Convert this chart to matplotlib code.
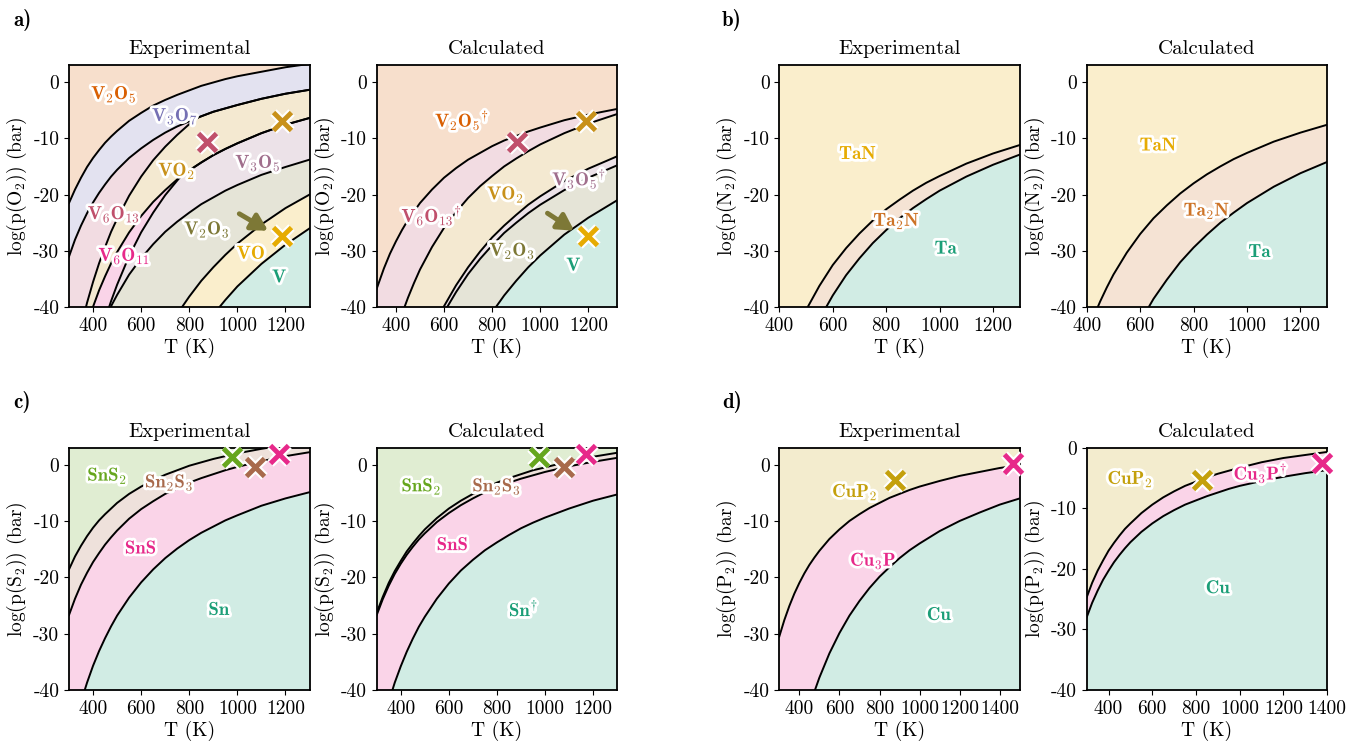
import re
import matplotlib
matplotlib.use('Agg')
import matplotlib.pyplot as plt
import matplotlib.patheffects as pe
from matplotlib.colors import to_rgb

plt.rcParams['font.family'] = 'serif'
plt.rcParams['font.serif'] = ['cmr10']
plt.rcParams['mathtext.fontset'] = 'cm'
plt.rcParams['axes.unicode_minus'] = False
plt.rcParams['font.size'] = 14

# ---------------- data ----------------
# a) V-O experimental: phase boundaries (T in K, log p(O2) in bar), top to bottom
aexp_T1 = [300, 325, 350, 375, 400, 425, 450, 475, 500, 550, 600, 650, 700, 750, 800, 850, 900, 950, 1000, 1100, 1200, 1300]
aexp_p1 = [-21.5, -19.1, -17.0, -15.1, -13.5, -12.1, -10.8, -9.7, -8.7, -6.9, -5.5, -4.2, -3.2, -2.3, -1.5, -0.7, -0.1, 0.5, 1.0, 1.8, 2.6, 3.2]
aexp_T2 = [300, 325, 350, 375, 400, 425, 450, 475, 500, 550, 600, 650, 700, 750, 800, 850, 900, 950, 1000, 1100, 1200, 1300]
aexp_p2 = [-31.0, -28.0, -25.5, -23.3, -21.4, -19.7, -18.2, -16.8, -15.6, -13.5, -11.8, -10.3, -9.0, -7.9, -7.0, -6.1, -5.3, -4.7, -4.1, -3.0, -2.1, -1.4]
aexp_T3 = [350, 375, 400, 425, 450, 475, 500, 550, 600, 650, 700, 750, 800, 832, 850, 900, 950, 1000, 1100, 1200, 1300]
aexp_p3 = [-43.5, -39.2, -35.5, -32.2, -29.3, -26.6, -24.3, -20.2, -16.8, -13.9, -11.5, -9.4, -7.5, -6.4, -6.1, -5.3, -4.7, -4.1, -3.0, -2.1, -1.4]
aexp_T4 = [375, 400, 425, 450, 475, 500, 550, 600, 650, 700, 750, 800, 850, 900, 950, 1000, 1100, 1200, 1300]
aexp_p4 = [-43.1, -39.9, -37.0, -34.5, -32.2, -30.2, -26.7, -23.8, -21.3, -19.2, -17.3, -15.7, -14.3, -13.0, -11.9, -10.9, -9.1, -7.6, -6.4]
aexp_T5 = [450, 475, 500, 550, 600, 650, 700, 750, 762, 800, 850, 900, 950, 1000, 1100, 1200, 1300]
aexp_p5 = [-42.1, -38.9, -36.0, -30.9, -26.7, -23.2, -20.1, -17.5, -16.9, -15.7, -14.3, -13.0, -11.9, -10.9, -9.1, -7.6, -6.4]
aexp_T6 = [450, 475, 500, 550, 600, 650, 700, 750, 800, 850, 900, 950, 1000, 1100, 1200, 1300]
aexp_p6 = [-42.1, -39.8, -37.8, -34.2, -31.3, -28.8, -26.6, -24.8, -23.2, -21.7, -20.5, -19.3, -18.3, -16.5, -15.1, -13.8]
aexp_T7 = [750, 800, 850, 900, 950, 1000, 1100, 1200, 1300]
aexp_p7 = [-41.2, -38.1, -35.3, -32.9, -30.7, -28.7, -25.3, -22.4, -20.0]
aexp_T8 = [900, 950, 1000, 1100, 1200, 1300]
aexp_p8 = [-41.3, -38.7, -36.3, -32.3, -28.9, -26.0]
aexp_phases = ['V2O5', 'V3O7', 'V6O13', 'VO2', 'V6O11', 'V3O5', 'V2O3', 'VO', 'V']
aexp_labels = ['V2O5', 'V3O7', 'VO2', 'V3O5', 'V6O13', 'V2O3', 'V6O11', 'VO', 'V']
aexp_label_T = [487, 741, 748, 1086, 487, 874, 530, 1058, 1177]
aexp_label_p = [-2.1, -6.0, -15.7, -14.3, -23.4, -26.1, -30.8, -30.5, -34.7]
aexp_cross_ph = ['V6O13', 'VO2', 'VO']
aexp_cross_T = [874, 1184, 1184]
aexp_cross_p = [-10.7, -7.0, -27.3]
aexp_arrow = [(1008, -23.4), (1128, -26.4)]

# a) V-O calculated
acal_T1 = [320, 350, 375, 400, 425, 450, 475, 500, 550, 600, 650, 700, 750, 800, 850, 900, 950, 1000, 1100, 1200, 1320]
acal_p1 = [-36.7, -33.1, -30.5, -28.3, -26.3, -24.5, -23.0, -21.5, -19.1, -17.0, -15.3, -13.8, -12.6, -11.4, -10.4, -9.6, -8.8, -8.1, -6.8, -5.8, -4.8]
acal_T2 = [425, 450, 475, 500, 550, 600, 650, 700, 750, 800, 850, 900, 950, 1000, 1100, 1200, 1320]
acal_p2 = [-41.2, -38.3, -35.7, -33.3, -29.3, -25.9, -23.1, -20.6, -18.5, -16.7, -15.0, -13.6, -12.3, -11.1, -9.1, -7.4, -5.7]
acal_T3 = [575, 600, 650, 700, 750, 800, 850, 900, 950, 1000, 1100, 1200, 1320]
acal_p3 = [-42.0, -39.8, -36.1, -32.9, -30.1, -27.6, -25.5, -23.6, -21.8, -20.3, -17.6, -15.4, -13.2]
acal_T4 = [600, 650, 700, 750, 800, 850, 900, 950, 1000, 1100, 1200, 1320]
acal_p4 = [-40.9, -37.3, -34.1, -31.4, -29.0, -26.8, -25.0, -23.3, -21.8, -19.2, -17.0, -14.8]
acal_T5 = [800, 850, 900, 950, 1000, 1100, 1200, 1320]
acal_p5 = [-40.9, -37.9, -35.3, -32.9, -30.8, -27.1, -24.1, -21.0]
acal_phases = ['V2O5', 'V6O13', 'VO2', 'V3O5', 'V2O3', 'V']
acal_labels = ['V2O5†', 'V6O13†', 'VO2', 'V3O5†', 'V2O3', 'V']
acal_label_T = [675, 549, 856, 1162, 884, 1141]
acal_label_p = [-6.8, -23.7, -19.9, -17.2, -29.9, -32.6]
acal_cross_ph = ['V6O13', 'VO2', 'VO']
acal_cross_T = [904, 1190, 1197]
acal_cross_p = [-10.7, -6.9, -27.3]
acal_arrow = [(1030, -23.3), (1141, -26.4)]

# b) Ta-N
bexp_T1 = [475, 500, 550, 600, 650, 700, 750, 800, 850, 900, 950, 1000, 1100, 1200, 1300]
bexp_p1 = [-43.0, -40.5, -36.2, -32.5, -29.5, -26.9, -24.6, -22.6, -20.9, -19.3, -17.9, -16.7, -14.5, -12.7, -11.2]
bexp_T2 = [550, 600, 650, 700, 750, 800, 850, 900, 950, 1000, 1100, 1200, 1300]
bexp_p2 = [-42.1, -37.9, -34.3, -31.3, -28.6, -26.3, -24.2, -22.4, -20.8, -19.3, -16.8, -14.7, -12.9]
bexp_labels = ['TaN', 'Ta2N', 'Ta']
bexp_label_T = [695, 839, 1026]
bexp_label_p = [-12.8, -24.6, -29.6]

bcal_T1 = [425, 450, 475, 500, 550, 600, 650, 700, 750, 800, 850, 900, 950, 1000, 1100, 1200, 1300]
bcal_p1 = [-41.8, -39.0, -36.5, -34.2, -30.3, -27.0, -24.2, -21.9, -19.8, -18.0, -16.4, -15.0, -13.7, -12.6, -10.6, -9.0, -7.6]
bcal_T2 = [600, 650, 700, 750, 800, 850, 900, 950, 1000, 1100, 1200, 1300]
bcal_p2 = [-42.6, -38.5, -35.1, -32.0, -29.4, -27.1, -25.0, -23.2, -21.5, -18.6, -16.2, -14.2]
bcal_labels = ['TaN', 'Ta2N', 'Ta']
bcal_label_T = [669, 850, 1050]
bcal_label_p = [-11.3, -22.8, -30.2]
b_phases = ['TaN', 'Ta2N', 'Ta']

# c) Sn-S
cexp_T1 = [300, 325, 350, 375, 400, 425, 450, 475, 500, 550, 600, 650, 700, 750, 800, 850, 900, 950, 1000, 1100, 1200, 1300]
cexp_p1 = [-18.6, -16.3, -14.4, -12.7, -11.2, -9.9, -8.8, -7.8, -6.8, -5.2, -3.9, -2.8, -1.8, -1.0, -0.2, 0.4, 1.0, 1.5, 2.0, 2.8, 3.5, 4.0]
cexp_T2 = [300, 325, 350, 375, 400, 425, 450, 475, 500, 550, 600, 650, 700, 750, 800, 850, 900, 950, 1000, 1100, 1200, 1300]
cexp_p2 = [-26.7, -23.8, -21.3, -19.2, -17.3, -15.7, -14.2, -12.9, -11.7, -9.6, -7.9, -6.5, -5.2, -4.2, -3.2, -2.4, -1.7, -1.0, -0.4, 0.6, 1.5, 2.2]
cexp_T3 = [350, 375, 400, 425, 450, 475, 500, 550, 600, 650, 700, 750, 800, 850, 900, 950, 1000, 1100, 1200, 1300]
cexp_p3 = [-42.1, -38.7, -35.7, -33.1, -30.8, -28.7, -26.8, -23.6, -20.9, -18.6, -16.6, -14.9, -13.4, -12.1, -11.0, -9.9, -9.0, -7.3, -6.0, -4.9]
cexp_labels = ['SnS2', 'Sn2S3', 'SnS', 'Sn']
cexp_label_T = [459, 717, 599, 927]
cexp_label_p = [-1.9, -3.1, -14.9, -25.8]
cexp_cross_T = [979, 1074, 1172]
cexp_cross_p = [1.4, -0.5, 1.8]

ccal_T1 = [300, 325, 350, 375, 400, 425, 450, 475, 500, 550, 600, 650, 700, 750, 800, 850, 900, 950, 1000, 1100, 1200, 1300]
ccal_p1 = [-26.3, -23.5, -21.0, -18.9, -17.1, -15.4, -14.0, -12.7, -11.5, -9.5, -7.8, -6.4, -5.2, -4.2, -3.2, -2.4, -1.7, -1.0, -0.5, 0.6, 1.4, 2.1]
ccal_T2 = [300, 325, 350, 375, 400, 425, 450, 475, 500, 550, 600, 650, 700, 750, 800, 850, 900, 950, 1000, 1100, 1200, 1300]
ccal_p2 = [-26.7, -23.9, -21.5, -19.4, -17.6, -16.0, -14.6, -13.3, -12.2, -10.2, -8.6, -7.2, -6.0, -4.9, -4.0, -3.2, -2.5, -1.9, -1.3, -0.3, 0.5, 1.2]
ccal_T3 = [350, 375, 400, 425, 450, 475, 500, 550, 600, 650, 700, 750, 800, 850, 900, 950, 1000, 1100, 1200, 1300]
ccal_p3 = [-42.1, -38.7, -35.8, -33.2, -30.9, -28.8, -27.0, -23.8, -21.1, -18.8, -16.9, -15.2, -13.8, -12.5, -11.3, -10.3, -9.4, -7.8, -6.4, -5.3]
ccal_labels = ['SnS2', 'Sn2S3', 'SnS', 'Sn†']
ccal_label_T = [486, 799, 616, 911]
ccal_label_p = [-3.8, -3.8, -14.3, -25.8]
ccal_cross_T = [973, 1078, 1171]
ccal_cross_p = [1.4, -0.5, 1.8]
c_phases = ['SnS2', 'Sn2S3', 'SnS', 'Sn']

# d) Cu-P
dexp_T1 = [300, 325, 350, 375, 400, 425, 450, 475, 500, 550, 600, 650, 700, 750, 800, 850, 900, 950, 1000, 1100, 1200, 1300, 1400, 1500]
dexp_p1 = [-30.5, -27.6, -25.1, -22.9, -21.0, -19.3, -17.8, -16.5, -15.3, -13.2, -11.5, -10.0, -8.8, -7.7, -6.8, -5.9, -5.2, -4.5, -3.9, -2.9, -2.0, -1.3, -0.6, -0.1]
dexp_T2 = [450, 475, 500, 550, 600, 650, 700, 750, 800, 850, 900, 950, 1000, 1100, 1200, 1300, 1400, 1500]
dexp_p2 = [-43.1, -40.3, -37.8, -33.5, -29.9, -26.8, -24.2, -21.9, -19.9, -18.2, -16.6, -15.2, -14.0, -11.8, -10.0, -8.5, -7.1, -6.0]
dexp_labels = ['CuP2', 'Cu3P', 'Cu']
dexp_label_T = [677, 769, 1101]
dexp_label_p = [-4.8, -17.0, -26.7]
dexp_cross_ph = ['CuP2', 'Cu3P']
dexp_cross_T = [877, 1467]
dexp_cross_p = [-2.8, 0.2]

dcal_T1 = [300, 325, 350, 375, 400, 425, 450, 475, 500, 550, 600, 650, 700, 750, 800, 850, 900, 950, 1000, 1100, 1200, 1300, 1400]
dcal_p1 = [-24.7, -22.3, -20.3, -18.6, -17.0, -15.7, -14.5, -13.4, -12.5, -10.8, -9.4, -8.2, -7.2, -6.3, -5.6, -4.9, -4.3, -3.8, -3.3, -2.4, -1.7, -1.2, -0.7]
dcal_T2 = [300, 325, 350, 375, 400, 425, 450, 475, 500, 550, 600, 650, 700, 750, 800, 850, 900, 950, 1000, 1100, 1200, 1300, 1400]
dcal_p2 = [-28.0, -25.6, -23.6, -21.8, -20.3, -18.9, -17.7, -16.6, -15.6, -13.9, -12.5, -11.3, -10.3, -9.4, -8.7, -8.0, -7.4, -6.8, -6.3, -5.5, -4.8, -4.2, -3.7]
dcal_labels = ['CuP2', 'Cu3P†', 'Cu']
dcal_label_T = [499, 1095, 904]
dcal_label_p = [-5.1, -4.2, -23.2]
dcal_cross_T = [827, 1377]
dcal_cross_p = [-5.3, -2.6]
d_phases = ['CuP2', 'Cu3P', 'Cu']

# ---------------- styling ----------------
COL = {
    'V2O5': '#d95f02', 'V3O7': '#7570b3', 'V6O13': '#c0506c', 'VO2': '#c8911a',
    'V6O11': '#e7298a', 'V3O5': '#a06e8c', 'V2O3': '#7d7836', 'VO': '#e6ab02',
    'V': '#1b9e77',
    'TaN': '#e6ab02', 'Ta2N': '#cd7326', 'Ta': '#1b9e77',
    'SnS2': '#66a61e', 'Sn2S3': '#a86a4c', 'SnS': '#e7298a', 'Sn': '#1b9e77',
    'CuP2': '#c4a00c', 'Cu3P': '#e7298a', 'Cu': '#1b9e77',
}
halo = [pe.withStroke(linewidth=4, foreground='white')]


def light(c, a=0.2):
    r, g, b = to_rgb(c)
    return (1 - a + a * r, 1 - a + a * g, 1 - a + a * b)


def formula(name):
    dag = name.endswith('†')
    base = name.rstrip('†')
    tex = re.sub(r'(\d+)', r'_{\1}', base)
    s = r'\mathbf{' + tex + '}'
    if dag:
        s += r'^{\dagger}'
    return '$' + s + '$'


def draw(ax, bounds, phases, xlim, ylim, xticks, title, gas):
    ax.set_xlim(xlim)
    ax.set_ylim(ylim)
    ax.set_facecolor(light(COL[phases[0]]))
    for (T, p), ph in zip(bounds, phases[1:]):
        ax.fill_between(T, p, ylim[0] - 30, color=light(COL[ph]), lw=0, zorder=1)
    for T, p in bounds:
        ax.plot(T, p, color='black', lw=1.4, zorder=2)
    ax.set_xticks(xticks)
    ax.set_yticks([0, -10, -20, -30, -40])
    ax.set_title(title, pad=8, fontsize=15)
    ax.set_xlabel('T (K)', labelpad=2)
    ax.set_ylabel('log(p(%s$_2$)) (bar)' % gas, labelpad=3, fontsize=14)
    for s in ax.spines.values():
        s.set_linewidth(1.3)


def labels(ax, names, Ts, ps):
    for n, T, p in zip(names, Ts, ps):
        ax.text(T, p, formula(n), color=COL[n.rstrip('†')], ha='center', va='center',
                fontsize=13.5, path_effects=halo, zorder=5)


def crosses(ax, phs, Ts, ps):
    for ph, T, p in zip(phs, Ts, ps):
        ax.plot(T, p, 'x', ms=13, mew=3.5, color=COL[ph], zorder=6, clip_on=False,
                path_effects=[pe.Stroke(linewidth=6.5, foreground='white'), pe.Normal()])


def arrow(ax, pts, color):
    ax.annotate('', xy=pts[1], xytext=pts[0], zorder=5,
                arrowprops=dict(arrowstyle='-|>,head_length=0.8,head_width=0.45',
                                color=color, lw=3.5, shrinkA=0, shrinkB=0,
                                mutation_scale=12))


fig = plt.figure(figsize=(13.58, 7.41), dpi=100)
col_x = [69, 376.7, 779.3, 1086.7]
row_top = [65, 447.7]
W, H = 240.5, 242.3


def add_ax(col, row):
    return fig.add_axes([col_x[col] / 1358, 1 - (row_top[row] + H) / 741, W / 1358, H / 741])


x_abc = [400, 600, 800, 1000, 1200]
x_d = [400, 600, 800, 1000, 1200, 1400]

# a)
ax = add_ax(0, 0)
draw(ax, [(aexp_T1, aexp_p1), (aexp_T2, aexp_p2), (aexp_T3, aexp_p3), (aexp_T4, aexp_p4),
          (aexp_T5, aexp_p5), (aexp_T6, aexp_p6), (aexp_T7, aexp_p7), (aexp_T8, aexp_p8)],
     aexp_phases, (300, 1300), (-40, 3), x_abc, 'Experimental', 'O')
labels(ax, aexp_labels, aexp_label_T, aexp_label_p)
arrow(ax, aexp_arrow, COL['V2O3'])
crosses(ax, aexp_cross_ph, aexp_cross_T, aexp_cross_p)

ax = add_ax(1, 0)
draw(ax, [(acal_T1, acal_p1), (acal_T2, acal_p2), (acal_T3, acal_p3), (acal_T4, acal_p4),
          (acal_T5, acal_p5)],
     acal_phases, (320, 1320), (-40, 3), x_abc, 'Calculated', 'O')
labels(ax, acal_labels, acal_label_T, acal_label_p)
arrow(ax, acal_arrow, COL['V2O3'])
crosses(ax, acal_cross_ph, acal_cross_T, acal_cross_p)

# b)
ax = add_ax(2, 0)
draw(ax, [(bexp_T1, bexp_p1), (bexp_T2, bexp_p2)], b_phases, (400, 1300), (-40, 3),
     x_abc, 'Experimental', 'N')
labels(ax, bexp_labels, bexp_label_T, bexp_label_p)

ax = add_ax(3, 0)
draw(ax, [(bcal_T1, bcal_p1), (bcal_T2, bcal_p2)], b_phases, (400, 1300), (-40, 3),
     x_abc, 'Calculated', 'N')
labels(ax, bcal_labels, bcal_label_T, bcal_label_p)

# c)
ax = add_ax(0, 1)
draw(ax, [(cexp_T1, cexp_p1), (cexp_T2, cexp_p2), (cexp_T3, cexp_p3)], c_phases,
     (300, 1300), (-40, 3), x_abc, 'Experimental', 'S')
labels(ax, cexp_labels, cexp_label_T, cexp_label_p)
crosses(ax, c_phases[:3], cexp_cross_T, cexp_cross_p)

ax = add_ax(1, 1)
draw(ax, [(ccal_T1, ccal_p1), (ccal_T2, ccal_p2), (ccal_T3, ccal_p3)], c_phases,
     (300, 1300), (-40, 3), x_abc, 'Calculated', 'S')
labels(ax, ccal_labels, ccal_label_T, ccal_label_p)
crosses(ax, c_phases[:3], ccal_cross_T, ccal_cross_p)

# d)
ax = add_ax(2, 1)
draw(ax, [(dexp_T1, dexp_p1), (dexp_T2, dexp_p2)], d_phases, (300, 1500), (-40, 3),
     x_d, 'Experimental', 'P')
labels(ax, dexp_labels, dexp_label_T, dexp_label_p)
crosses(ax, dexp_cross_ph, dexp_cross_T, dexp_cross_p)

ax = add_ax(3, 1)
draw(ax, [(dcal_T1, dcal_p1), (dcal_T2, dcal_p2)], d_phases, (300, 1400), (-40, 0),
     x_d, 'Calculated', 'P')
labels(ax, dcal_labels, dcal_label_T, dcal_label_p)
crosses(ax, dexp_cross_ph, dcal_cross_T, dcal_cross_p)

for lab, x, y in [('a)', 13, 20), ('b)', 722, 20), ('c)', 13, 402), ('d)', 722, 402)]:
    fig.text(x / 1358, 1 - y / 741, lab, fontsize=15, fontfamily='cmb10',
             ha='left', va='center')

fig.savefig('out.png', dpi=100)
